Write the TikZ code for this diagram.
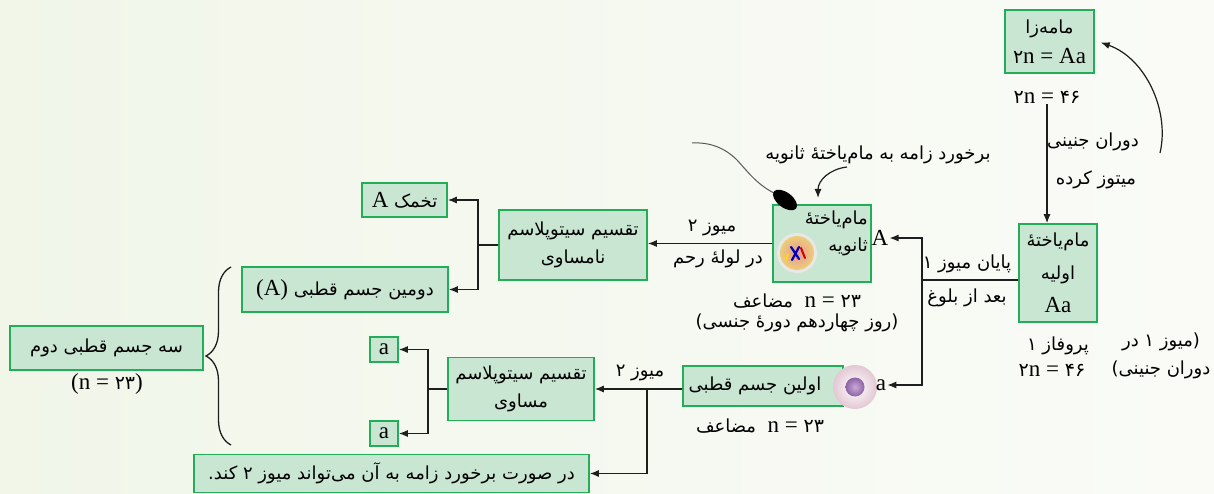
\documentclass[tikz,border=0pt]{standalone}
\usepackage{fontspec}
\setmainfont{Liberation Serif}
\newfontfamily\fafont[Script=Arabic]{DejaVu Sans}
\TeXXeTstate=1
\usetikzlibrary{calc,decorations.pathreplacing,arrows.meta,shapes.geometric}
\definecolor{boxgreen}{RGB}{34,174,88}
\definecolor{boxfill}{RGB}{201,230,211}
\definecolor{linec}{RGB}{30,30,30}
\definecolor{bgl}{RGB}{241,246,233}
\definecolor{bgr}{RGB}{250,251,247}
\newcommand{\prt}[1]{{\fafont\fontsize{18}{20}\selectfont\beginR #1\endR}}
\newcommand{\pdig}[1]{{\fafont\fontsize{19}{20}\selectfont #1}}
\begin{document}
\begin{tikzpicture}[x=1pt,y=-1pt,
 box/.style={draw=boxgreen, fill=boxfill, line width=1.6pt, inner sep=0pt, align=center, font=\fontsize{23}{28}\selectfont},
 lbl/.style={inner sep=1pt, align=center, font=\fontsize{19}{28}\selectfont},
 lat/.style={inner sep=1pt, align=center, font=\fontsize{23}{24}\selectfont},
 arr/.style={-{Latex[length=9pt,width=7pt]}, line width=1.2pt, draw=linec},
 ln/.style={line width=1.2pt, draw=linec}]
\useasboundingbox (0,0) rectangle (1214,494);
\shade[left color=bgl, right color=bgr] (0,0) rectangle (1214,494);

% boxes
\node[box, minimum width=89, minimum height=63, font=\fontsize{23}{30}\selectfont] (mamezaa) at (1049.5,41.5) {\prt{مامه‌زا}\\\pdig{۲}n = Aa};
\node[box, minimum width=78, minimum height=98, font=\fontsize{23}{33}\selectfont] (primary) at (1058,273) {\prt{مام‌یاختهٔ}\\\prt{اولیه}\\Aa};
\node[box, minimum width=98, minimum height=77] (secondary) at (822,243.5) {};
\node[box, minimum width=148, minimum height=70, font=\fontsize{19}{28}\selectfont] (nam) at (573,245) {\prt{تقسیم سیتوپلاسم}\\\prt{نامساوی}};
\node[box, minimum width=85, minimum height=34] (tokhmak) at (404.5,200) {A \prt{تخمک}};
\node[box, minimum width=206, minimum height=45] (dovomin) at (345,289.5) {(A) \prt{دومین جسم قطبی}};
\node[box, minimum width=193, minimum height=44] (sejesm) at (106.5,348) {\prt{سه جسم قطبی دوم}};
\node[box, minimum width=160, minimum height=40] (avalin) at (763,386) {};
\node[box, minimum width=146, minimum height=63, font=\fontsize{19}{28}\selectfont] (mosavi) at (521,389) {\prt{تقسیم سیتوپلاسم}\\\prt{مساوی}};
\node[box, minimum width=28, minimum height=25] (a1) at (384,349.5) {a};
\node[box, minimum width=28, minimum height=25] (a2) at (384,433.5) {a};
\node[box, minimum width=395, minimum height=38] (darsurat) at (391.5,473.5) {\prt{در صورت برخورد زامه به آن می‌تواند میوز ۲ کند.}};

% texts in boxes placed separately
\node[lbl, align=right, anchor=east, font=\fontsize{19}{27}\selectfont] (sectxt) at (869,233) {\prt{مام‌یاختهٔ}\\\prt{ثانویه}};
\node[lbl] (avalintxt) at (755,386) {\prt{اولین جسم قطبی}};

% cell images
\fill[gray!18] (797,253) circle (20);
\shade[inner color={rgb,255:red,232;green,150;blue,150}, outer color={rgb,255:red,236;green,206;blue,120}] (797,253) circle (17);
\draw[blue!70!black, line width=2.2pt, line cap=round] (791,247) -- (799,259) (799,247) -- (792,260);
\draw[red!80!black, line width=2pt, line cap=round] (801,248) -- (805,258);
\draw[yellow!80!orange, line width=1.8pt, line cap=round] (788,254) -- (786,260);
\shade[inner color=white, outer color={rgb,255:red,226;green,200;blue,212}] (855,387) circle (22);
\shade[inner color={rgb,255:red,200;green,170;blue,215}, outer color={rgb,255:red,140;green,100;blue,165}] (855,387) circle (9.5);

% sperm
\draw[gray!70!black, line width=1pt] (778,195) .. controls (758,186) and (748,172) .. (737,160) .. controls (725,148) and (710,142) .. (692,143);
\node[ellipse, fill=black, minimum width=28pt, minimum height=15pt, inner sep=0pt, rotate=-37] (spermhead) at (785,200) {};

% labels
\node[lat] (n46a) at (1047,97) {\pdig{۲}n = \pdig{۴۶}};
\node[lbl] (dj) at (1093,142) {\prt{دوران جنینی}};
\node[lbl] (mk) at (1096,180) {\prt{میتوز کرده}};
\node[lbl] (prof) at (1058,346) {\prt{پروفاز ۱}};
\node[lat] (n46b) at (1052,370) {\pdig{۲}n = \pdig{۴۶}};
\node[lbl] (miyoz) at (1161,356) {\prt{(میوز ۱ در}\\\prt{دوران جنینی)}};
\node[lbl] (payan) at (967,264) {\prt{پایان میوز ۱}};
\node[lbl] (baad) at (967,298) {\prt{بعد از بلوغ}};
\node[lat] (Anode) at (880,238) {A};
\node[lat] (anode) at (881,385) {a};
\node[lbl] (barkhord) at (878,155) {\prt{برخورد زامه به مام‌یاختهٔ ثانویه}};
\node[lat] (mz1) at (797,301) {\prt{مضاعف}\enspace n = \pdig{۲۳}};
\node[lbl] (rooz) at (797,323) {\prt{(روز چهاردهم دورهٔ جنسی)}};
\node[lbl] (m2a) at (712,228) {\prt{میوز ۲}};
\node[lbl] (lole) at (718,259) {\prt{در لولهٔ رحم}};
\node[lbl] (m2b) at (640,373) {\prt{میوز ۲}};
\node[lat] (mz2) at (760,426) {\prt{مضاعف}\enspace n = \pdig{۲۳}};
\node[lat] (nse) at (107,384) {(n = \pdig{۲۳})};

% coordinates
\coordinate (cst) at (1160,153);
\coordinate (bst) at (847,167);
\coordinate (bend) at (818,198);
\coordinate (s1) at (922,280);
\coordinate (s2) at (478,245);
\coordinate (s3) at (647,389);
\coordinate (s4) at (428,389);

% connectors
\draw[arr] (n46a.south) -- (n46a.south |- primary.north);
\draw[arr] (cst) .. controls (1170,110) and (1145,58) .. ($(mamezaa.east)+(6,1)$);
\draw[arr] (bst) .. controls (830,169) and (818,180) .. (bend);
\draw[ln] (primary.west |- s1) -- (s1);
\draw[arr] (s1) |- (Anode.east);
\draw[arr] (s1) |- (anode.east);
\draw[arr] (secondary.west) -- (secondary.west -| nam.east);
\draw[ln] (nam.west) -- (s2);
\draw[arr] (s2) |- (tokhmak.east);
\draw[arr] (s2) |- (dovomin.east);
\draw[arr] (avalin.west |- s3) -- (s3 -| mosavi.east);
\draw[arr] (s3) |- (darsurat.east);
\draw[ln] (mosavi.west) -- (s4);
\draw[arr] (s4) |- (a1.east);
\draw[arr] (s4) |- (a2.east);
\draw[decorate, decoration={brace, amplitude=25pt}, line width=1.3pt, draw=linec] (231,445) -- (231,267);
\end{tikzpicture}
\end{document}
